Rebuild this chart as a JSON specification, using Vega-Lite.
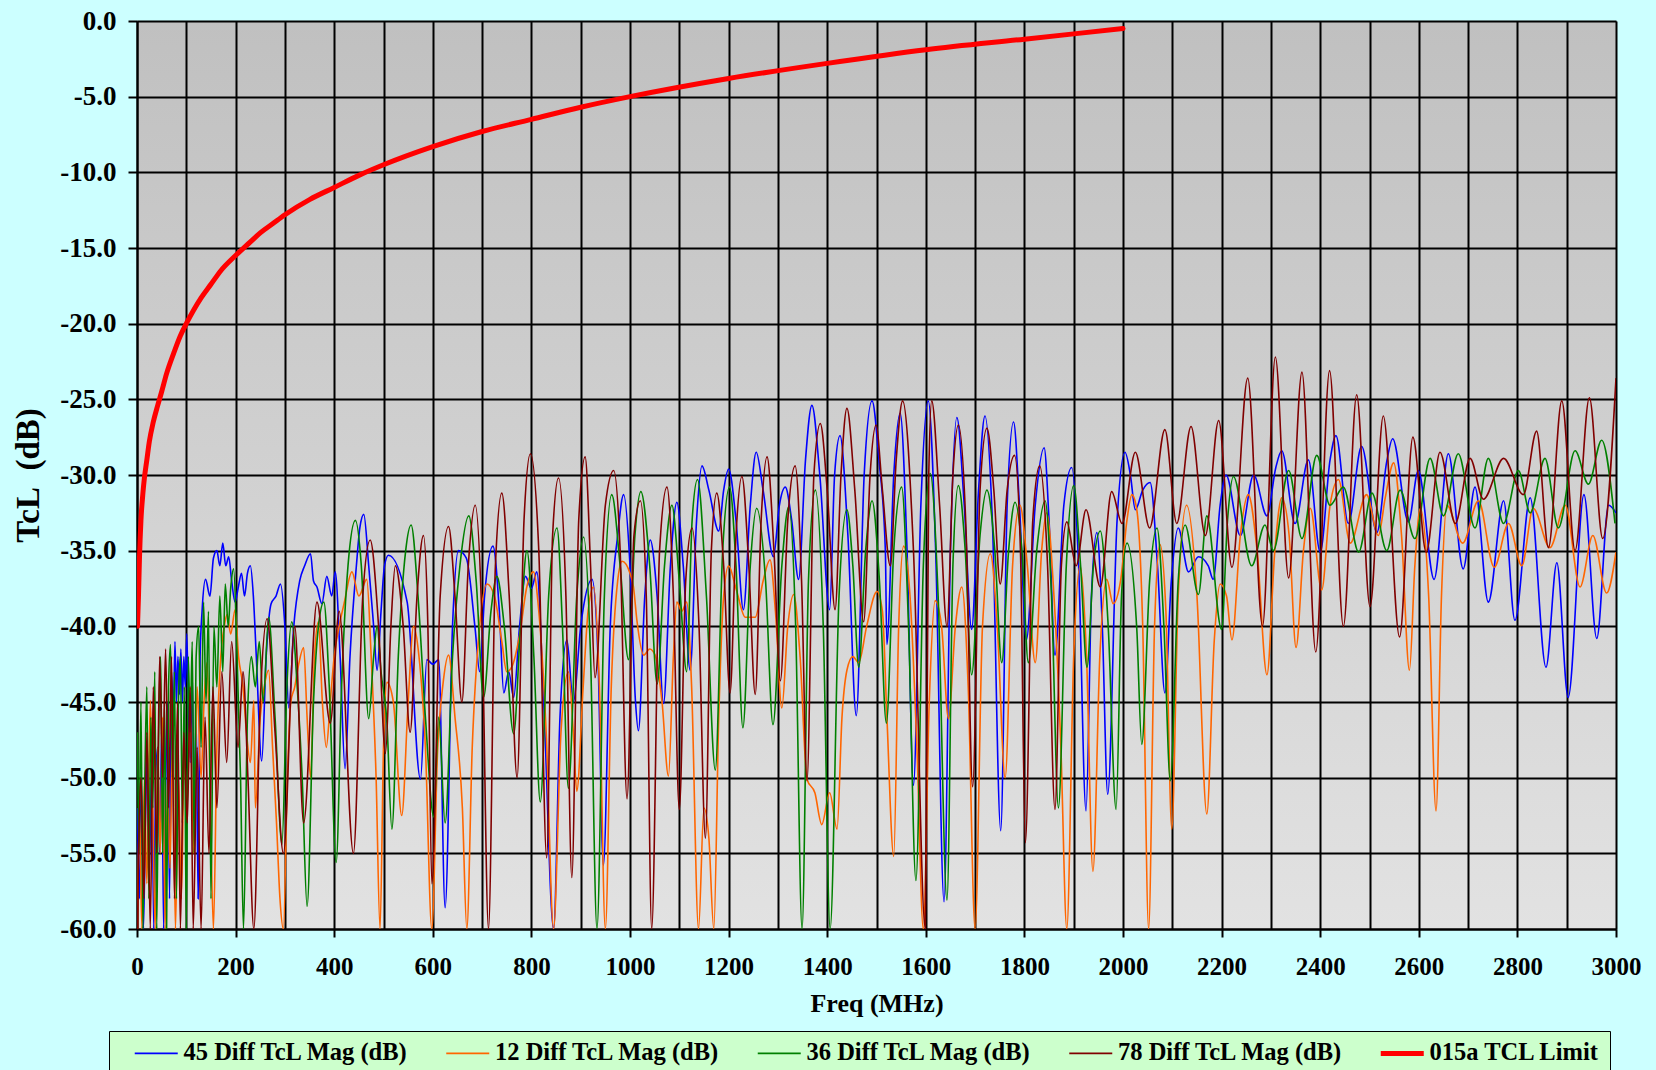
{
"$schema": "https://vega.github.io/schema/vega-lite/v6.json",
"width": 1479, "height": 908,
"autosize": {"type": "none"},
"padding": {"left": 137, "top": 21, "right": 40, "bottom": 141},
"background": "#ccffff",
"config": {
  "view": {"fill": {"gradient": "linear", "x1": 0, "y1": 0, "x2": 0, "y2": 1, "stops": [{"offset": 0, "color": "#c0c0c0"}, {"offset": 1, "color": "#e2e2e2"}]}, "stroke": "#9a9a9a", "strokeWidth": 1},
  "font": "Liberation Serif"
},
"datasets": {
"d45": [{"f":1,"v":-52},{"f":5,"v":-58},{"f":9,"v":-50},{"f":13,"v":-60},{"f":17,"v":-53},{"f":21,"v":-48},{"f":25,"v":-56},{"f":30,"v":-49},{"f":34,"v":-60},{"f":38,"v":-50},{"f":42,"v":-48},{"f":46,"v":-55},{"f":50,"v":-47},{"f":54,"v":-60},{"f":58,"v":-51},{"f":62,"v":-45},{"f":66,"v":-58},{"f":70,"v":-43},{"f":74,"v":-46},{"f":77,"v":-41},{"f":80,"v":-45},{"f":83,"v":-42},{"f":86,"v":-44.5},{"f":89,"v":-41.5},{"f":92,"v":-45},{"f":95,"v":-42},{"f":98,"v":-44},{"f":101,"v":-40.5},{"f":104,"v":-45},{"f":108,"v":-49},{"f":112,"v":-43},{"f":116,"v":-52},{"f":120,"v":-46},{"f":124,"v":-58},{"f":128,"v":-42},{"f":132,"v":-39},{"f":139,"v":-36.9},{"f":148,"v":-38},{"f":155,"v":-35.5},{"f":162,"v":-35},{"f":168,"v":-36},{"f":174,"v":-34.5},{"f":180,"v":-36},{"f":186,"v":-35.4},{"f":192,"v":-37},{"f":199,"v":-38.4},{"f":205,"v":-37.5},{"f":212,"v":-36.5},{"f":218,"v":-38},{"f":224,"v":-36.5},{"f":230,"v":-36},{"f":236,"v":-38},{"f":242,"v":-42},{"f":253,"v":-48.9},{"f":262,"v":-42},{"f":272,"v":-38.5},{"f":282,"v":-38},{"f":291,"v":-37.2},{"f":300,"v":-40},{"f":308,"v":-45.4},{"f":318,"v":-40},{"f":330,"v":-37},{"f":340,"v":-36},{"f":352,"v":-35.2},{"f":358,"v":-37},{"f":365,"v":-37.4},{"f":375,"v":-38.5},{"f":385,"v":-36.7},{"f":395,"v":-38},{"f":402,"v":-36.4},{"f":412,"v":-42},{"f":422,"v":-49.4},{"f":432,"v":-42},{"f":445,"v":-36},{"f":452,"v":-33.5},{"f":460,"v":-32.6},{"f":470,"v":-36},{"f":480,"v":-40},{"f":487,"v":-42.9},{"f":495,"v":-39},{"f":502,"v":-36},{"f":510,"v":-35.3},{"f":548,"v":-38.4},{"f":575,"v":-50.1},{"f":588,"v":-42.2},{"f":600,"v":-42.5},{"f":612,"v":-42.2},{"f":625,"v":-58.6},{"f":640,"v":-40},{"f":652,"v":-35},{"f":668,"v":-35.5},{"f":686,"v":-40.2},{"f":695,"v":-43},{"f":705,"v":-38},{"f":722,"v":-34.7},{"f":735,"v":-39},{"f":744,"v":-44.4},{"f":754,"v":-43},{"f":764,"v":-44.7},{"f":776,"v":-40},{"f":788,"v":-36.7},{"f":800,"v":-37.5},{"f":811,"v":-36.4},{"f":825,"v":-45},{"f":845,"v":-60},{"f":858,"v":-46},{"f":872,"v":-40.9},{"f":885,"v":-45},{"f":900,"v":-40},{"f":923,"v":-36.9},{"f":935,"v":-42},{"f":946,"v":-55.8},{"f":960,"v":-40},{"f":975,"v":-34},{"f":987,"v":-31.3},{"f":1000,"v":-36},{"f":1011,"v":-44.9},{"f":1017,"v":-46.9},{"f":1030,"v":-38},{"f":1041,"v":-34.3},{"f":1055,"v":-38},{"f":1068,"v":-45.1},{"f":1082,"v":-36},{"f":1095,"v":-31.8},{"f":1108,"v":-36},{"f":1122,"v":-42.9},{"f":1135,"v":-33},{"f":1146,"v":-29.4},{"f":1160,"v":-31},{"f":1180,"v":-33.7},{"f":1190,"v":-31},{"f":1200,"v":-29.6},{"f":1215,"v":-33},{"f":1230,"v":-38.9},{"f":1244,"v":-32},{"f":1256,"v":-28.5},{"f":1270,"v":-31},{"f":1291,"v":-35.4},{"f":1303,"v":-32},{"f":1315,"v":-30.8},{"f":1328,"v":-33},{"f":1342,"v":-36.9},{"f":1356,"v":-29},{"f":1369,"v":-25.4},{"f":1385,"v":-30},{"f":1405,"v":-38.9},{"f":1415,"v":-30},{"f":1426,"v":-27.4},{"f":1442,"v":-34},{"f":1459,"v":-45.9},{"f":1475,"v":-30},{"f":1491,"v":-25.1},{"f":1505,"v":-29},{"f":1518,"v":-35},{"f":1521,"v":-41.2},{"f":1535,"v":-30},{"f":1548,"v":-25.9},{"f":1562,"v":-35},{"f":1575,"v":-50.5},{"f":1590,"v":-32},{"f":1605,"v":-25.1},{"f":1620,"v":-35},{"f":1637,"v":-58.2},{"f":1650,"v":-35},{"f":1663,"v":-26.2},{"f":1678,"v":-32},{"f":1693,"v":-40.2},{"f":1707,"v":-31},{"f":1720,"v":-26.1},{"f":1735,"v":-33},{"f":1752,"v":-53.5},{"f":1765,"v":-32},{"f":1778,"v":-26.5},{"f":1790,"v":-32},{"f":1804,"v":-40.9},{"f":1822,"v":-32},{"f":1840,"v":-28.2},{"f":1850,"v":-33},{"f":1862,"v":-41.9},{"f":1880,"v":-32},{"f":1896,"v":-29.5},{"f":1910,"v":-36},{"f":1925,"v":-52.2},{"f":1936,"v":-38},{"f":1947,"v":-33.8},{"f":1958,"v":-40},{"f":1969,"v":-51.1},{"f":1988,"v":-33},{"f":2004,"v":-28.5},{"f":2015,"v":-30},{"f":2025,"v":-32.3},{"f":2040,"v":-31},{"f":2055,"v":-30.5},{"f":2070,"v":-36},{"f":2085,"v":-44.4},{"f":2098,"v":-37},{"f":2112,"v":-33.5},{"f":2133,"v":-36.4},{"f":2153,"v":-35.4},{"f":2173,"v":-36},{"f":2183,"v":-36.9},{"f":2197,"v":-32},{"f":2209,"v":-30},{"f":2238,"v":-34},{"f":2265,"v":-30},{"f":2292,"v":-32.7},{"f":2310,"v":-29.5},{"f":2322,"v":-28.4},{"f":2349,"v":-33.2},{"f":2376,"v":-29},{"f":2400,"v":-35.1},{"f":2420,"v":-29},{"f":2432,"v":-27.4},{"f":2457,"v":-33.2},{"f":2484,"v":-28.1},{"f":2515,"v":-33.8},{"f":2535,"v":-29.1},{"f":2547,"v":-27.6},{"f":2579,"v":-33.1},{"f":2599,"v":-29.7},{"f":2631,"v":-36.9},{"f":2660,"v":-28.6},{"f":2690,"v":-36.2},{"f":2714,"v":-30.8},{"f":2741,"v":-38.4},{"f":2772,"v":-31.7},{"f":2795,"v":-39.6},{"f":2826,"v":-31.5},{"f":2858,"v":-42.7},{"f":2880,"v":-35.8},{"f":2903,"v":-44.7},{"f":2935,"v":-31.3},{"f":2961,"v":-40.8},{"f":2985,"v":-32},{"f":3000,"v":-32.5}],
"d12": [{"f":1,"v":-60},{"f":5,"v":-52},{"f":10,"v":-60},{"f":15,"v":-50},{"f":20,"v":-57},{"f":27,"v":-44.9},{"f":32,"v":-52},{"f":37,"v":-60},{"f":42,"v":-48},{"f":47,"v":-55},{"f":52,"v":-46},{"f":57,"v":-60},{"f":62,"v":-50},{"f":67,"v":-56},{"f":72,"v":-47},{"f":78,"v":-60},{"f":84,"v":-50},{"f":90,"v":-58},{"f":96,"v":-48},{"f":101,"v":-52},{"f":108,"v":-46},{"f":115,"v":-55},{"f":122,"v":-44},{"f":130,"v":-50},{"f":136,"v":-45},{"f":142,"v":-42.4},{"f":148,"v":-50},{"f":155,"v":-60},{"f":162,"v":-48},{"f":170,"v":-42},{"f":177,"v":-40},{"f":183,"v":-39.2},{"f":190,"v":-40.5},{"f":199,"v":-38.9},{"f":206,"v":-42},{"f":215,"v":-44},{"f":222,"v":-47},{"f":230,"v":-49},{"f":237,"v":-44.9},{"f":240,"v":-52},{"f":250,"v":-46},{"f":258,"v":-44},{"f":267,"v":-42.9},{"f":275,"v":-48},{"f":283,"v":-53},{"f":290,"v":-58},{"f":297,"v":-60},{"f":305,"v":-50},{"f":312,"v":-45},{"f":320,"v":-44},{"f":328,"v":-42.5},{"f":338,"v":-41.4},{"f":345,"v":-46},{"f":352,"v":-50},{"f":360,"v":-42},{"f":368,"v":-39.7},{"f":376,"v":-45},{"f":384,"v":-48},{"f":392,"v":-45},{"f":400,"v":-42},{"f":410,"v":-40},{"f":420,"v":-38.5},{"f":436,"v":-36.4},{"f":450,"v":-38},{"f":466,"v":-36.9},{"f":475,"v":-42},{"f":485,"v":-50},{"f":493,"v":-60},{"f":500,"v":-48},{"f":507,"v":-43.7},{"f":520,"v":-45},{"f":537,"v":-52.5},{"f":550,"v":-45},{"f":561,"v":-40},{"f":572,"v":-42},{"f":585,"v":-48},{"f":598,"v":-60},{"f":610,"v":-48},{"f":620,"v":-44},{"f":632,"v":-41.9},{"f":645,"v":-46},{"f":660,"v":-52},{"f":669,"v":-60},{"f":680,"v":-48},{"f":695,"v":-40},{"f":710,"v":-37.2},{"f":725,"v":-38},{"f":740,"v":-41},{"f":750,"v":-43},{"f":760,"v":-42.7},{"f":777,"v":-40.4},{"f":790,"v":-37.5},{"f":804,"v":-36.4},{"f":815,"v":-39},{"f":830,"v":-47},{"f":845,"v":-60},{"f":860,"v":-47},{"f":875,"v":-43},{"f":885,"v":-47},{"f":892,"v":-50.9},{"f":905,"v":-44},{"f":915,"v":-39},{"f":926,"v":-37.4},{"f":938,"v":-44},{"f":950,"v":-60},{"f":962,"v":-44},{"f":975,"v":-37},{"f":984,"v":-35.7},{"f":1000,"v":-36.5},{"f":1007,"v":-37.4},{"f":1014,"v":-39.6},{"f":1028,"v":-41.9},{"f":1040,"v":-41.5},{"f":1051,"v":-41.9},{"f":1065,"v":-45},{"f":1078,"v":-49.9},{"f":1088,"v":-42},{"f":1095,"v":-38.4},{"f":1105,"v":-39},{"f":1115,"v":-38.4},{"f":1125,"v":-44},{"f":1139,"v":-60},{"f":1150,"v":-52},{"f":1160,"v":-54},{"f":1170,"v":-60},{"f":1180,"v":-46},{"f":1190,"v":-38},{"f":1200,"v":-36},{"f":1215,"v":-37.5},{"f":1234,"v":-39.4},{"f":1254,"v":-39.4},{"f":1270,"v":-37},{"f":1284,"v":-35.6},{"f":1295,"v":-39},{"f":1308,"v":-45.4},{"f":1320,"v":-40},{"f":1332,"v":-37.9},{"f":1345,"v":-42},{"f":1359,"v":-50.1},{"f":1375,"v":-51},{"f":1389,"v":-53.1},{"f":1405,"v":-51},{"f":1420,"v":-53.4},{"f":1430,"v":-46},{"f":1440,"v":-42.9},{"f":1452,"v":-42},{"f":1464,"v":-42.4},{"f":1480,"v":-40},{"f":1501,"v":-37.7},{"f":1512,"v":-39},{"f":1521,"v":-45.9},{"f":1535,"v":-55.2},{"f":1545,"v":-40},{"f":1555,"v":-34.7},{"f":1568,"v":-38},{"f":1582,"v":-48},{"f":1595,"v":-60},{"f":1607,"v":-45},{"f":1619,"v":-38.3},{"f":1632,"v":-40},{"f":1646,"v":-46.1},{"f":1660,"v":-40},{"f":1673,"v":-37.4},{"f":1686,"v":-44},{"f":1700,"v":-60},{"f":1715,"v":-40},{"f":1731,"v":-35.2},{"f":1745,"v":-40},{"f":1761,"v":-50},{"f":1776,"v":-36},{"f":1791,"v":-32},{"f":1806,"v":-36},{"f":1822,"v":-42.4},{"f":1835,"v":-35},{"f":1845,"v":-32.5},{"f":1860,"v":-38},{"f":1874,"v":-48},{"f":1886,"v":-60},{"f":1900,"v":-42},{"f":1913,"v":-36},{"f":1926,"v":-42},{"f":1939,"v":-56.2},{"f":1953,"v":-42},{"f":1967,"v":-36.9},{"f":1980,"v":-38.5},{"f":1995,"v":-37},{"f":2008,"v":-33},{"f":2018,"v":-31.3},{"f":2028,"v":-32.3},{"f":2040,"v":-40},{"f":2052,"v":-60},{"f":2064,"v":-40},{"f":2075,"v":-34.6},{"f":2087,"v":-39},{"f":2099,"v":-53.4},{"f":2112,"v":-38},{"f":2129,"v":-32},{"f":2150,"v":-38},{"f":2170,"v":-52.4},{"f":2185,"v":-41},{"f":2197,"v":-37.2},{"f":2210,"v":-38},{"f":2221,"v":-40.9},{"f":2238,"v":-34},{"f":2254,"v":-31.3},{"f":2272,"v":-35},{"f":2292,"v":-43.2},{"f":2308,"v":-35},{"f":2322,"v":-31.5},{"f":2337,"v":-34},{"f":2351,"v":-41.4},{"f":2366,"v":-35},{"f":2380,"v":-32.2},{"f":2403,"v":-37.6},{"f":2420,"v":-32},{"f":2437,"v":-30.3},{"f":2461,"v":-34.5},{"f":2494,"v":-31.3},{"f":2518,"v":-34},{"f":2532,"v":-31.5},{"f":2549,"v":-29.2},{"f":2565,"v":-34},{"f":2581,"v":-42.9},{"f":2592,"v":-36},{"f":2603,"v":-32.2},{"f":2620,"v":-38},{"f":2635,"v":-52.2},{"f":2646,"v":-38},{"f":2657,"v":-32},{"f":2689,"v":-34.5},{"f":2721,"v":-31.7},{"f":2753,"v":-36.1},{"f":2782,"v":-33.2},{"f":2809,"v":-36},{"f":2832,"v":-32.2},{"f":2866,"v":-34.8},{"f":2897,"v":-32},{"f":2927,"v":-37.4},{"f":2953,"v":-34},{"f":2981,"v":-37.8},{"f":3000,"v":-35.1}],
"d36": [{"f":1,"v":-47},{"f":4,"v":-55},{"f":8,"v":-45},{"f":12,"v":-60},{"f":16,"v":-50},{"f":20,"v":-44},{"f":24,"v":-58},{"f":28,"v":-46},{"f":32,"v":-52},{"f":36,"v":-43},{"f":40,"v":-60},{"f":44,"v":-47},{"f":48,"v":-42},{"f":52,"v":-55},{"f":56,"v":-45},{"f":60,"v":-60},{"f":64,"v":-44},{"f":68,"v":-41.2},{"f":72,"v":-50},{"f":76,"v":-43},{"f":80,"v":-58},{"f":84,"v":-45},{"f":88,"v":-42},{"f":92,"v":-53},{"f":96,"v":-44},{"f":100,"v":-60},{"f":104,"v":-42},{"f":108,"v":-47},{"f":112,"v":-41},{"f":116,"v":-55},{"f":120,"v":-42},{"f":125,"v":-40},{"f":130,"v":-48},{"f":135,"v":-38.4},{"f":140,"v":-45},{"f":145,"v":-39},{"f":150,"v":-58},{"f":156,"v":-40},{"f":162,"v":-44},{"f":168,"v":-38},{"f":174,"v":-43},{"f":179,"v":-37.2},{"f":185,"v":-40},{"f":190,"v":-37.5},{"f":196,"v":-36.2},{"f":203,"v":-42},{"f":210,"v":-50},{"f":216,"v":-60},{"f":224,"v":-46},{"f":232,"v":-42},{"f":240,"v":-44},{"f":248,"v":-41},{"f":256,"v":-45},{"f":267,"v":-39.4},{"f":280,"v":-46},{"f":294,"v":-54.4},{"f":304,"v":-44},{"f":314,"v":-39.7},{"f":325,"v":-44},{"f":335,"v":-50},{"f":345,"v":-58.5},{"f":358,"v":-45},{"f":368,"v":-40},{"f":379,"v":-38.4},{"f":390,"v":-44},{"f":404,"v":-55.6},{"f":415,"v":-44},{"f":428,"v":-36},{"f":443,"v":-33},{"f":455,"v":-36},{"f":470,"v":-46.1},{"f":480,"v":-42},{"f":487,"v":-40},{"f":495,"v":-43},{"f":507,"v":-46.4},{"f":517,"v":-53.4},{"f":530,"v":-42},{"f":545,"v":-35},{"f":556,"v":-33.3},{"f":570,"v":-38},{"f":585,"v":-46},{"f":602,"v":-52.6},{"f":612,"v":-46},{"f":625,"v":-53},{"f":640,"v":-42},{"f":655,"v":-36},{"f":673,"v":-32.7},{"f":688,"v":-37},{"f":703,"v":-44.7},{"f":718,"v":-39},{"f":730,"v":-36.7},{"f":745,"v":-40},{"f":764,"v":-47.1},{"f":778,"v":-40},{"f":791,"v":-35},{"f":805,"v":-42},{"f":818,"v":-51.6},{"f":835,"v":-38},{"f":852,"v":-33.5},{"f":863,"v":-40},{"f":875,"v":-50.7},{"f":892,"v":-38},{"f":906,"v":-34.1},{"f":920,"v":-42},{"f":933,"v":-60},{"f":948,"v":-38},{"f":963,"v":-31.3},{"f":980,"v":-36},{"f":997,"v":-42.2},{"f":1010,"v":-34},{"f":1022,"v":-31.1},{"f":1040,"v":-36},{"f":1055,"v":-43.8},{"f":1070,"v":-36},{"f":1085,"v":-32},{"f":1100,"v":-37},{"f":1115,"v":-43},{"f":1126,"v":-33},{"f":1137,"v":-30.3},{"f":1155,"v":-38},{"f":1173,"v":-49.5},{"f":1188,"v":-35},{"f":1202,"v":-30.8},{"f":1215,"v":-36},{"f":1229,"v":-46.7},{"f":1244,"v":-36},{"f":1257,"v":-32.2},{"f":1275,"v":-37},{"f":1290,"v":-46.5},{"f":1308,"v":-36},{"f":1322,"v":-32.1},{"f":1336,"v":-40},{"f":1349,"v":-60},{"f":1362,"v":-37},{"f":1376,"v":-31},{"f":1392,"v":-40},{"f":1406,"v":-60},{"f":1424,"v":-38},{"f":1440,"v":-32.3},{"f":1452,"v":-36},{"f":1464,"v":-42.7},{"f":1478,"v":-35},{"f":1491,"v":-31.7},{"f":1506,"v":-37},{"f":1520,"v":-46.4},{"f":1535,"v":-35},{"f":1551,"v":-30.8},{"f":1565,"v":-40},{"f":1580,"v":-56.8},{"f":1595,"v":-36},{"f":1609,"v":-29.9},{"f":1625,"v":-38},{"f":1643,"v":-58.1},{"f":1655,"v":-36},{"f":1666,"v":-30.7},{"f":1680,"v":-35},{"f":1693,"v":-43.2},{"f":1710,"v":-34},{"f":1724,"v":-31},{"f":1740,"v":-35},{"f":1754,"v":-42.4},{"f":1768,"v":-35},{"f":1781,"v":-31.8},{"f":1795,"v":-35},{"f":1808,"v":-42.4},{"f":1825,"v":-35},{"f":1842,"v":-31.7},{"f":1855,"v":-38},{"f":1869,"v":-52},{"f":1885,"v":-36},{"f":1900,"v":-30.7},{"f":1914,"v":-36},{"f":1927,"v":-42.7},{"f":1940,"v":-36},{"f":1954,"v":-33.7},{"f":1970,"v":-40},{"f":1986,"v":-52.1},{"f":1997,"v":-38},{"f":2008,"v":-34.5},{"f":2028,"v":-40.2},{"f":2038,"v":-47.8},{"f":2054,"v":-37},{"f":2069,"v":-33.5},{"f":2083,"v":-40},{"f":2096,"v":-50.2},{"f":2112,"v":-37},{"f":2126,"v":-33.3},{"f":2153,"v":-37.9},{"f":2170,"v":-32.7},{"f":2200,"v":-40.2},{"f":2212,"v":-33},{"f":2224,"v":-30.1},{"f":2261,"v":-36},{"f":2288,"v":-33.3},{"f":2305,"v":-35},{"f":2336,"v":-29.7},{"f":2363,"v":-34.2},{"f":2393,"v":-28.7},{"f":2420,"v":-32},{"f":2447,"v":-30.8},{"f":2478,"v":-35.1},{"f":2505,"v":-31.2},{"f":2535,"v":-35},{"f":2562,"v":-31},{"f":2592,"v":-34.2},{"f":2623,"v":-28.9},{"f":2650,"v":-32.7},{"f":2680,"v":-28.6},{"f":2714,"v":-33.5},{"f":2741,"v":-28.9},{"f":2772,"v":-33.2},{"f":2802,"v":-29.7},{"f":2826,"v":-32.5},{"f":2856,"v":-28.9},{"f":2883,"v":-33.5},{"f":2917,"v":-28.4},{"f":2944,"v":-30.6},{"f":2971,"v":-27.7},{"f":2998,"v":-33.2}],
"d78": [{"f":1,"v":-60},{"f":8,"v":-50},{"f":14,"v":-58},{"f":20,"v":-47},{"f":27,"v":-60},{"f":33,"v":-44},{"f":40,"v":-55},{"f":46,"v":-42},{"f":52,"v":-50},{"f":58,"v":-41.5},{"f":64,"v":-52},{"f":70,"v":-42},{"f":76,"v":-58},{"f":82,"v":-45},{"f":88,"v":-60},{"f":95,"v":-47},{"f":102,"v":-53},{"f":108,"v":-44},{"f":114,"v":-60},{"f":122,"v":-48},{"f":130,"v":-60},{"f":138,"v":-46},{"f":146,"v":-55},{"f":154,"v":-44},{"f":162,"v":-52},{"f":172,"v":-43},{"f":182,"v":-49},{"f":192,"v":-41},{"f":205,"v":-48},{"f":215,"v":-43},{"f":225,"v":-50},{"f":237,"v":-60},{"f":250,"v":-45},{"f":264,"v":-39.5},{"f":280,"v":-47},{"f":297,"v":-55},{"f":320,"v":-40},{"f":338,"v":-53},{"f":365,"v":-38.4},{"f":392,"v":-46.4},{"f":410,"v":-39},{"f":439,"v":-55},{"f":458,"v":-38},{"f":473,"v":-34.3},{"f":490,"v":-40},{"f":504,"v":-48.4},{"f":515,"v":-40},{"f":524,"v":-36},{"f":540,"v":-40},{"f":554,"v":-47},{"f":568,"v":-38},{"f":581,"v":-34},{"f":590,"v":-40},{"f":598,"v":-57},{"f":615,"v":-38},{"f":632,"v":-33.4},{"f":645,"v":-38},{"f":659,"v":-45},{"f":672,"v":-36},{"f":686,"v":-32},{"f":700,"v":-40},{"f":713,"v":-60},{"f":727,"v":-36},{"f":740,"v":-31.2},{"f":755,"v":-38},{"f":771,"v":-50},{"f":785,"v":-33},{"f":798,"v":-28.6},{"f":815,"v":-35},{"f":831,"v":-55.3},{"f":843,"v":-34},{"f":855,"v":-30.2},{"f":870,"v":-38},{"f":882,"v":-56.6},{"f":896,"v":-33},{"f":909,"v":-28.8},{"f":920,"v":-36},{"f":929,"v":-43.4},{"f":950,"v":-32},{"f":967,"v":-29.7},{"f":980,"v":-35},{"f":994,"v":-51.4},{"f":1008,"v":-34},{"f":1021,"v":-31.7},{"f":1033,"v":-38},{"f":1044,"v":-60},{"f":1060,"v":-35},{"f":1075,"v":-30.8},{"f":1088,"v":-38},{"f":1100,"v":-52.1},{"f":1113,"v":-37},{"f":1126,"v":-33.5},{"f":1140,"v":-40},{"f":1153,"v":-54},{"f":1165,"v":-35},{"f":1176,"v":-31.2},{"f":1190,"v":-36},{"f":1203,"v":-44.4},{"f":1215,"v":-34},{"f":1227,"v":-30.1},{"f":1241,"v":-36},{"f":1254,"v":-44.5},{"f":1266,"v":-33},{"f":1278,"v":-28.8},{"f":1292,"v":-35},{"f":1305,"v":-43.6},{"f":1320,"v":-33},{"f":1335,"v":-29.4},{"f":1348,"v":-37},{"f":1359,"v":-50.2},{"f":1373,"v":-30},{"f":1386,"v":-26.6},{"f":1400,"v":-31},{"f":1416,"v":-38.9},{"f":1428,"v":-30},{"f":1440,"v":-25.6},{"f":1456,"v":-31},{"f":1474,"v":-39.7},{"f":1487,"v":-30},{"f":1499,"v":-26.7},{"f":1512,"v":-31},{"f":1528,"v":-36},{"f":1540,"v":-29},{"f":1553,"v":-25.1},{"f":1575,"v":-35},{"f":1599,"v":-60},{"f":1606,"v":-30},{"f":1612,"v":-25.1},{"f":1628,"v":-32},{"f":1643,"v":-40},{"f":1655,"v":-30},{"f":1666,"v":-26.7},{"f":1682,"v":-34},{"f":1695,"v":-50.6},{"f":1710,"v":-31},{"f":1724,"v":-26.9},{"f":1738,"v":-31},{"f":1751,"v":-37.2},{"f":1765,"v":-31},{"f":1780,"v":-28.7},{"f":1792,"v":-35},{"f":1802,"v":-54.3},{"f":1817,"v":-33},{"f":1831,"v":-29.4},{"f":1847,"v":-36},{"f":1862,"v":-52.1},{"f":1875,"v":-36},{"f":1886,"v":-33.1},{"f":1905,"v":-36},{"f":1925,"v":-32.3},{"f":1954,"v":-37.4},{"f":1977,"v":-31.1},{"f":1998,"v":-33.2},{"f":2025,"v":-28.5},{"f":2054,"v":-33.5},{"f":2085,"v":-27},{"f":2109,"v":-33.2},{"f":2138,"v":-26.8},{"f":2167,"v":-34},{"f":2194,"v":-26.4},{"f":2221,"v":-36.1},{"f":2253,"v":-23.6},{"f":2283,"v":-40},{"f":2309,"v":-22.2},{"f":2336,"v":-36.8},{"f":2363,"v":-23.2},{"f":2391,"v":-41.7},{"f":2419,"v":-23.1},{"f":2447,"v":-40},{"f":2474,"v":-24.7},{"f":2501,"v":-38.7},{"f":2528,"v":-26.1},{"f":2561,"v":-40.7},{"f":2588,"v":-27.5},{"f":2615,"v":-35.1},{"f":2643,"v":-28.5},{"f":2674,"v":-33.2},{"f":2704,"v":-28.9},{"f":2731,"v":-31.6},{"f":2772,"v":-28.9},{"f":2812,"v":-31.3},{"f":2839,"v":-27.1},{"f":2863,"v":-34.8},{"f":2890,"v":-25.1},{"f":2917,"v":-35},{"f":2946,"v":-24.9},{"f":2973,"v":-34.2},{"f":3000,"v":-23.6}],
"lim": [{"f":1,"v":-40},{"f":2,"v":-39},{"f":3,"v":-38},{"f":5,"v":-35.5},{"f":8,"v":-33},{"f":12,"v":-31.2},{"f":15,"v":-30.2},{"f":20,"v":-29},{"f":25,"v":-27.8},{"f":33,"v":-26.5},{"f":42,"v":-25.4},{"f":50,"v":-24.5},{"f":60,"v":-23.3},{"f":75,"v":-21.9},{"f":88,"v":-20.8},{"f":100,"v":-20},{"f":115,"v":-19.1},{"f":130,"v":-18.3},{"f":150,"v":-17.4},{"f":170,"v":-16.5},{"f":200,"v":-15.5},{"f":230,"v":-14.6},{"f":250,"v":-14},{"f":275,"v":-13.4},{"f":300,"v":-12.8},{"f":350,"v":-11.8},{"f":400,"v":-11},{"f":450,"v":-10.2},{"f":500,"v":-9.5},{"f":600,"v":-8.3},{"f":700,"v":-7.3},{"f":800,"v":-6.5},{"f":900,"v":-5.7},{"f":1000,"v":-5},{"f":1200,"v":-3.8},{"f":1400,"v":-2.8},{"f":1600,"v":-1.9},{"f":1800,"v":-1.2},{"f":2000,"v":-0.5}]
},
"encoding": {
  "x": {"field": "f", "type": "quantitative", "title": "Freq (MHz)",
    "scale": {"domain": [0, 3000], "nice": false, "zero": false},
    "axis": {"values": [0,100,200,300,400,500,600,700,800,900,1000,1100,1200,1300,1400,1500,1600,1700,1800,1900,2000,2100,2200,2300,2400,2500,2600,2700,2800,2900,3000],
      "labelExpr": "datum.value % 200 == 0 ? format(datum.value, 'd') : ''",
      "labelOverlap": false, "labelFlush": false, "labelBound": false,
      "grid": true, "gridColor": "#000000", "gridWidth": 2, "gridOpacity": 1,
      "domainColor": "#000000", "domainWidth": 2,
      "tickColor": {"condition": {"test": "datum.value % 200 == 0", "value": "#000000"}, "value": "transparent"},
      "tickSize": 8, "tickWidth": 2,
      "labelFont": "Liberation Serif", "labelFontSize": 25, "labelFontWeight": "bold", "labelColor": "#000000", "labelPadding": 17,
      "titleFont": "Liberation Serif", "titleFontSize": 26, "titleFontWeight": "bold", "titleColor": "#000000", "titlePadding": 11}},
  "y": {"field": "v", "type": "quantitative", "title": "TcL\u00a0\u00a0(dB)",
    "scale": {"domain": [-60, 0], "nice": false},
    "axis": {"values": [-60,-55,-50,-45,-40,-35,-30,-25,-20,-15,-10,-5,0],
      "labelExpr": "(datum.value < 0 ? '-' : '') + format(abs(datum.value), '.1f')",
      "labelOverlap": false, "labelBound": false,
      "grid": true, "gridColor": "#000000", "gridWidth": 2, "gridOpacity": 1,
      "domainColor": "#000000", "domainWidth": 2,
      "tickColor": "#000000", "tickSize": 9, "tickWidth": 2,
      "labelFont": "Liberation Serif", "labelFontSize": 27, "labelFontWeight": "bold", "labelColor": "#000000", "labelPadding": 12,
      "titleFont": "Liberation Serif", "titleFontSize": 33, "titleFontWeight": "bold", "titleColor": "#000000", "titlePadding": 14}}
},
"layer": [
  {"data": {"name": "d45"}, "mark": {"type": "line", "strokeWidth": 1.6, "clip": true, "interpolate": "monotone"},
   "encoding": {"color": {"datum": "45 Diff TcL Mag (dB)", "type": "nominal",
     "scale": {"domain": ["45 Diff TcL Mag (dB)", "12 Diff TcL Mag (dB)", "36 Diff TcL Mag (dB)", "78 Diff TcL Mag (dB)", "015a TCL Limit"], "range": ["#0000ff", "#ff6600", "#008000", "#800000", "#ff0000"]},
     "legend": {"title": null, "orient": "none", "legendX": -28, "legendY": 1010, "direction": "horizontal", "columns": 5,
       "fillColor": "#ccffcc", "strokeColor": "#000000", "padding": 10,
       "symbolType": "stroke", "symbolSize": 1849, "symbolStrokeWidth": 1.6, "symbolOffset": 25,
       "labelFont": "Liberation Serif", "labelFontSize": 24.5, "labelFontWeight": "bold", "labelColor": "#000000", "labelLimit": 500, "labelOffset": 15,
       "columnPadding": 21.5,
       "encode": {"symbols": {"update": {"strokeWidth": {"signal": "datum.value === '015a TCL Limit' ? 5 : 1.6"}}}}}}}},
  {"data": {"name": "d12"}, "mark": {"type": "line", "strokeWidth": 1.6, "clip": true, "interpolate": "monotone"},
   "encoding": {"color": {"datum": "12 Diff TcL Mag (dB)", "type": "nominal"}}},
  {"data": {"name": "d36"}, "mark": {"type": "line", "strokeWidth": 1.6, "clip": true, "interpolate": "monotone"},
   "encoding": {"color": {"datum": "36 Diff TcL Mag (dB)", "type": "nominal"}}},
  {"data": {"name": "d78"}, "mark": {"type": "line", "strokeWidth": 1.6, "clip": true, "interpolate": "monotone"},
   "encoding": {"color": {"datum": "78 Diff TcL Mag (dB)", "type": "nominal"}}},
  {"data": {"name": "lim"}, "mark": {"type": "line", "strokeWidth": 5, "strokeCap": "round", "clip": true, "interpolate": "monotone"},
   "encoding": {"color": {"datum": "015a TCL Limit", "type": "nominal"}}}
]
}
